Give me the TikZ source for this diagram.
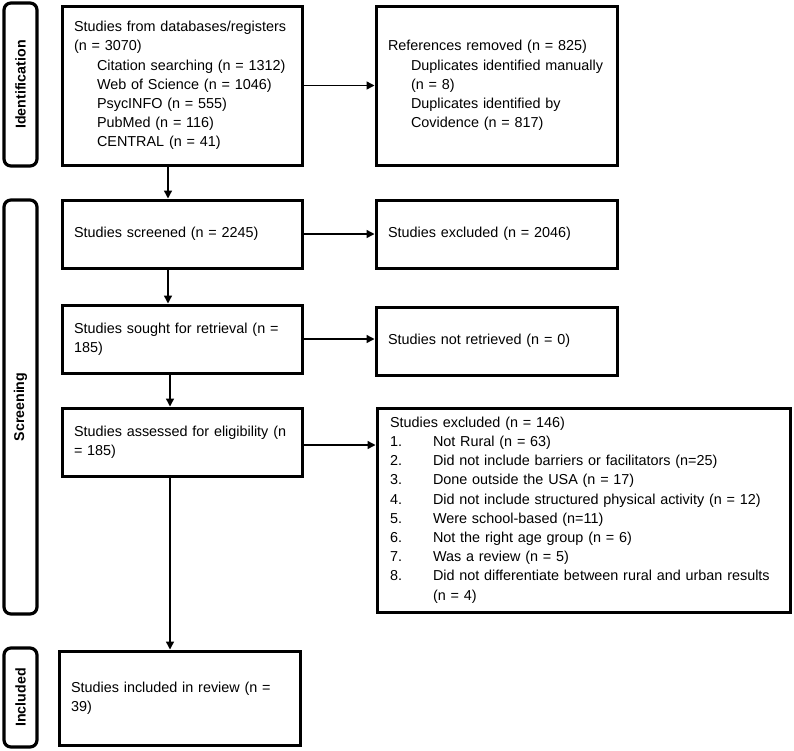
\documentclass[tikz,border=0pt]{standalone}
\usepackage{fontspec}
\setmainfont{Liberation Sans}
\usetikzlibrary{arrows.meta}

\tikzset{
  box/.style={draw=black, line width=3pt, fill=white, rectangle,
    inner xsep=12pt, inner ysep=4pt, align=left,
    font=\fontsize{14.4}{19.2}\selectfont},
  phase/.style={draw=black, line width=3.2pt, rounded corners=7pt,
    rotate=90, inner sep=0pt,
    font=\fontsize{14.2}{17}\selectfont\bfseries},
  flow/.style={line width=1.4pt, -{Triangle[length=8pt,width=8pt]}},
}
\newcommand{\ind}{\hspace*{23pt}}
\newcommand{\num}[1]{\makebox[43pt][l]{#1}}

\begin{document}
\begin{tikzpicture}[x=1pt, y=-1pt]
\useasboundingbox (0,0) rectangle (794,750);

% phase bars on the left
\node[phase, minimum width=163pt, minimum height=33pt] (pid) at (20.5,84.5) {Identification};
\node[phase, minimum width=414pt, minimum height=33pt] (pscr) at (20.5,407) {Screening};
\node[phase, minimum width=99pt, minimum height=33pt] (pinc) at (20.5,697.5) {Included};

% identification
\node[box, minimum width=240pt, minimum height=159pt, text width=216pt] (src) at (182,85.5)
  {Studies from databases/registers\\
   (n = 3070)\\
   \ind Citation searching (n = 1312)\\
   \ind Web of Science (n = 1046)\\
   \ind PsycINFO (n = 555)\\
   \ind PubMed (n = 116)\\
   \ind CENTRAL (n = 41)};
\node[box, minimum width=241pt, minimum height=159pt, text width=217pt] (rem) at (496.5,85.5)
  {References removed (n = 825)\\
   \ind Duplicates identified manually\\
   \ind (n = 8)\\
   \ind Duplicates identified by\\
   \ind Covidence (n = 817)};

% screening
\node[box, minimum width=240pt, minimum height=68pt, text width=216pt] (scr) at (182,234)
  {Studies screened (n = 2245)};
\node[box, minimum width=241pt, minimum height=68pt, text width=217pt] (exa) at (496.5,234)
  {Studies excluded (n = 2046)};
\node[box, minimum width=240pt, minimum height=68pt, text width=216pt] (sgt) at (182,339)
  {Studies sought for retrieval (n =\\185)};
\node[box, minimum width=241pt, minimum height=68pt, text width=217pt] (nret) at (496.5,341)
  {Studies not retrieved (n = 0)};
\node[box, minimum width=240pt, minimum height=68pt, text width=216pt] (asd) at (182,442)
  {Studies assessed for eligibility (n\\= 185)};
\node[box, minimum width=413pt, minimum height=204pt, text width=387pt, inner xsep=13pt] (exb) at (583.5,510)
  {Studies excluded (n = 146)\\
   \num{1.}Not Rural (n = 63)\\
   \num{2.}Did not include barriers or facilitators (n=25)\\
   \num{3.}Done outside the USA (n = 17)\\
   \num{4.}Did not include structured physical activity (n = 12)\\
   \num{5.}Were school-based (n=11)\\
   \num{6.}Not the right age group (n = 6)\\
   \num{7.}Was a review (n = 5)\\
   \num{8.}Did not differentiate between rural and urban results\\
   \num{}(n = 4)};

% included
\node[box, minimum width=241pt, minimum height=94pt, text width=217pt] (inc) at (179.5,698)
  {Studies included in review (n =\\39)};

% connectors
\coordinate (va) at (168,0);
\coordinate (vb) at (170,0);
\draw[flow] (src.south -| va) -- (scr.north -| va);
\draw[flow] (scr.south -| va) -- (sgt.north -| va);
\draw[flow] (sgt.south -| vb) -- (asd.north -| vb);
\draw[flow] (asd.south -| vb) -- (inc.north -| vb);

\draw[flow] (src.east) -- (rem.west);
\draw[flow] (scr.east) -- (scr.east -| exa.west);
\draw[flow] (sgt.east) -- (sgt.east -| nret.west);
\coordinate (ha) at (0,445);
\draw[flow] (asd.east |- ha) -- (exb.west |- ha);
\end{tikzpicture}
\end{document}
